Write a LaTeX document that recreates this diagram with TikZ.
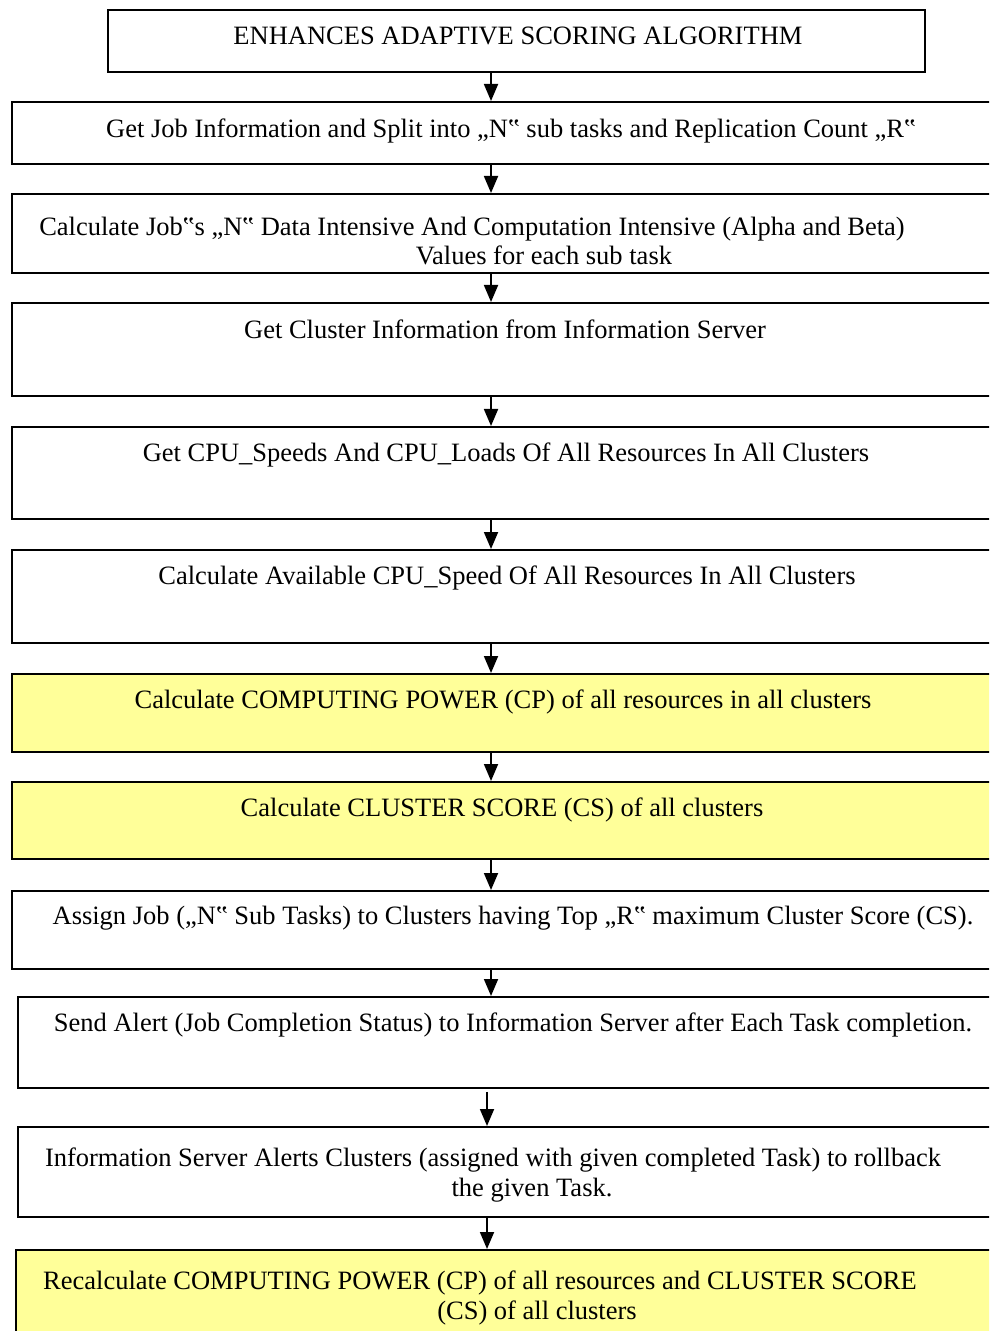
\documentclass[tikz,border=0pt]{standalone}
\usepackage{fontspec}
\setmainfont{Liberation Serif}
\usetikzlibrary{positioning, arrows.meta}
\definecolor{paleyellow}{RGB}{255,255,153}
\tikzset{>=latex}
\tikzset{
    box/.style={draw, line width=0.9pt, rectangle, anchor=north west, inner sep=0pt},
    hot/.style={box, fill=paleyellow},
    txt/.style={inner sep=0pt, text height=0.68em, text depth=0.22em, yshift=-2pt,
        font=\fontsize{13.25}{14.75}\selectfont},
    arr/.style={line width=0.9pt, -{Triangle[width=7pt,length=8.5pt]}}
}

\begin{document}
\begin{tikzpicture}[x=0.5pt, y=-0.5pt]
    \useasboundingbox (0,0) rectangle (989,1331);
    \clip (0,0) rectangle (989,1331);

    % boxes, top to bottom
    \node[box, minimum width=408.5pt, minimum height=31pt] (b0) at (107,9) {};
    \node[box, minimum width=504.5pt, minimum height=31pt] (b1) at (11,101) {};
    \node[box, minimum width=504.5pt, minimum height=39.5pt] (b2) at (11,193) {};
    \node[box, minimum width=504.5pt, minimum height=46.5pt] (b3) at (11,302) {};
    \node[box, minimum width=504.5pt, minimum height=46pt] (b4) at (11,426) {};
    \node[box, minimum width=504.5pt, minimum height=46.5pt] (b5) at (11,549) {};
    \node[hot, minimum width=504.5pt, minimum height=39pt] (b6) at (11,673) {};
    \node[hot, minimum width=504.5pt, minimum height=38.5pt] (b7) at (11,781) {};
    \node[box, minimum width=504.5pt, minimum height=39pt] (b8) at (11,890) {};
    \node[box, minimum width=501.5pt, minimum height=45.5pt] (b9) at (17,996) {};
    \node[box, minimum width=501.5pt, minimum height=45pt] (b10) at (17,1126) {};
    \node[hot, minimum width=502.5pt, minimum height=50pt] (b11) at (15,1249) {};

    % texts
    \node[txt] (t0) at (518,36) {ENHANCES ADAPTIVE SCORING ALGORITHM};
    \node[txt] (t1) at (511,129) {Get Job Information and Split into „N‟ sub tasks and Replication Count „R‟};
    \node[txt] (t2a) at (472,227) {Calculate Job‟s „N‟ Data Intensive And Computation Intensive (Alpha and Beta)};
    \node[txt] (t2b) at (544,256) {Values for each sub task};
    \node[txt] (t3) at (505,330) {Get Cluster Information from Information Server};
    \node[txt] (t4) at (506,453) {Get CPU\_Speeds And CPU\_Loads Of All Resources In All Clusters};
    \node[txt] (t5) at (507,576) {Calculate Available CPU\_Speed Of All Resources In All Clusters};
    \node[txt] (t6) at (503,700) {Calculate COMPUTING POWER (CP) of all resources in all clusters};
    \node[txt] (t7) at (502,808) {Calculate CLUSTER SCORE (CS) of all clusters};
    \node[txt] (t8) at (513,916) {Assign Job („N‟ Sub Tasks) to Clusters having Top „R‟ maximum Cluster Score (CS).};
    \node[txt] (t9) at (513,1023) {Send Alert (Job Completion Status) to Information Server after Each Task completion.};
    \node[txt] (t10a) at (493,1158) {Information Server Alerts Clusters (assigned with given completed Task) to rollback};
    \node[txt] (t10b) at (532,1188) {the given Task.};
    \node[txt] (t11a) at (480,1281) {Recalculate COMPUTING POWER (CP) of all resources and CLUSTER SCORE};
    \node[txt] (t11b) at (537,1311) {(CS) of all clusters};

    % arrows
    \coordinate (spine) at (491,0);
    \coordinate (spinelow) at (487,0);
    \foreach \a/\b in {b0/b1, b1/b2, b2/b3, b3/b4, b4/b5, b5/b6, b6/b7, b7/b8, b8/b9}
        \draw[arr] (spine |- \a.south) -- (spine |- \b.north);
    \draw[arr, shorten <=1.5pt] (spinelow |- b9.south) -- (spinelow |- b10.north);
    \draw[arr] (spinelow |- b10.south) -- (spinelow |- b11.north);
\end{tikzpicture}
\end{document}
